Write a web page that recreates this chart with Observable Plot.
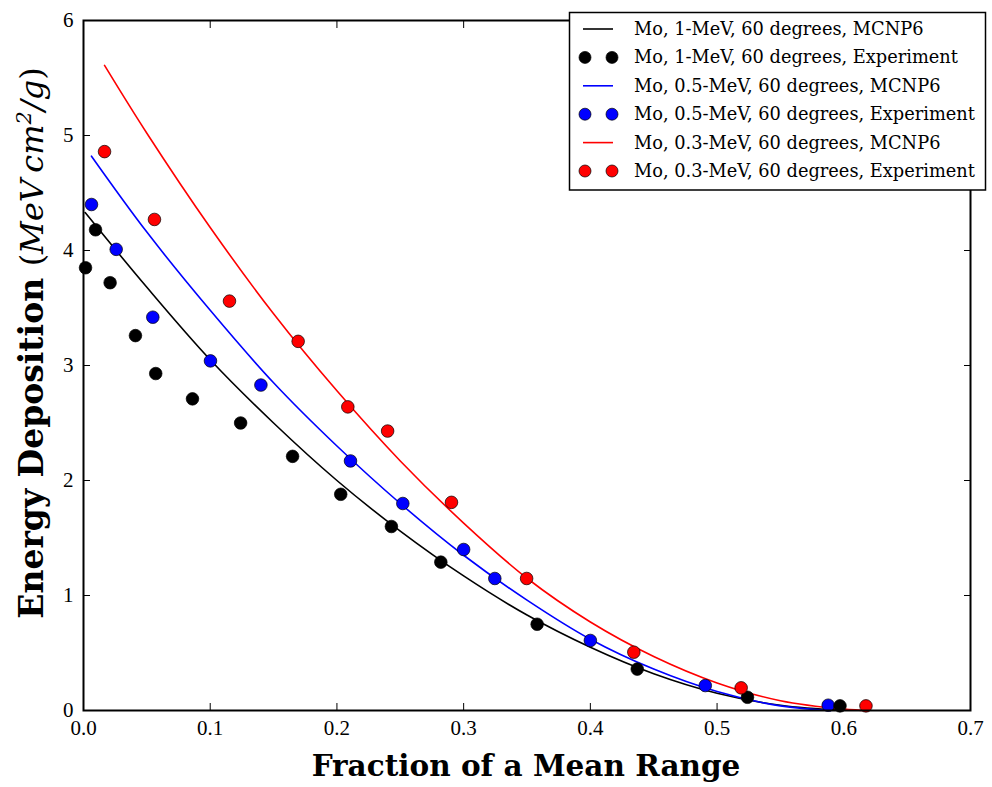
<!DOCTYPE html>
<html>
<head>
<meta charset="utf-8">
<script src="https://cdn.jsdelivr.net/npm/d3@7"></script>
<script src="https://cdn.jsdelivr.net/npm/@observablehq/plot@0.6"></script>
<style>
  html, body { margin: 0; padding: 0; background: white; }
  #chart { width: 992px; height: 787px; }
</style>
</head>
<body>
<div id="chart"></div>
<script>
// ---- Data ----
const xTicks = [0.0, 0.1, 0.2, 0.3, 0.4, 0.5, 0.6, 0.7];
const yTicks = [0, 1, 2, 3, 4, 5, 6];

// MCNP6 curves
const mc1_x = [0.0013, 0.05, 0.1, 0.15, 0.2, 0.25, 0.3, 0.35, 0.4, 0.45, 0.5, 0.55, 0.6];
const mc1_y = [4.33, 3.68, 3.05, 2.50, 2.00, 1.56, 1.17, 0.83, 0.55, 0.32, 0.15, 0.045, 0.0];

const mc05_x = [0.0063, 0.05, 0.1, 0.15, 0.2, 0.25, 0.3, 0.35, 0.4, 0.45, 0.5, 0.55, 0.59];
const mc05_y = [4.82, 4.16, 3.48, 2.85, 2.30, 1.80, 1.35, 0.96, 0.62, 0.36, 0.165, 0.04, 0.0];

const mc03_x = [0.0166, 0.05, 0.1, 0.15, 0.2, 0.25, 0.3, 0.35, 0.4, 0.45, 0.5, 0.55, 0.6, 0.62];
const mc03_y = [5.61, 5.02, 4.20, 3.45, 2.78, 2.17, 1.63, 1.15, 0.77, 0.47, 0.24, 0.085, 0.012, 0.0];

// Experiment points
const ex1_x = [0.0016, 0.0095, 0.021, 0.041, 0.057, 0.086, 0.124, 0.165, 0.203, 0.243, 0.282, 0.358, 0.437, 0.524, 0.597];
const ex1_y = [3.85, 4.18, 3.72, 3.26, 2.93, 2.71, 2.50, 2.21, 1.88, 1.60, 1.29, 0.75, 0.36, 0.115, 0.04];

const ex05_x = [0.0063, 0.0258, 0.0547, 0.1002, 0.140, 0.2107, 0.252, 0.300, 0.3246, 0.400, 0.4907, 0.5877];
const ex05_y = [4.40, 4.01, 3.42, 3.04, 2.83, 2.17, 1.80, 1.40, 1.148, 0.609, 0.217, 0.046];

const ex03_x = [0.0166, 0.056, 0.1152, 0.1694, 0.2086, 0.240, 0.2904, 0.3497, 0.4343, 0.519, 0.6175];
const ex03_y = [4.86, 4.27, 3.56, 3.21, 2.64, 2.43, 1.81, 1.148, 0.507, 0.197, 0.04];

const legendLabels = [
  "Mo, 1-MeV, 60 degrees, MCNP6",
  "Mo, 1-MeV, 60 degrees, Experiment",
  "Mo, 0.5-MeV, 60 degrees, MCNP6",
  "Mo, 0.5-MeV, 60 degrees, Experiment",
  "Mo, 0.3-MeV, 60 degrees, MCNP6",
  "Mo, 0.3-MeV, 60 degrees, Experiment"
];
const legendColors = ["black", "black", "blue", "blue", "red", "red"];
const legendKinds = ["line", "dot", "line", "dot", "line", "dot"];

// ---- Build tables ----
const zip = (xs, ys) => xs.map((x, i) => ({x, y: ys[i]}));
const mc1 = zip(mc1_x, mc1_y), mc05 = zip(mc05_x, mc05_y), mc03 = zip(mc03_x, mc03_y);
const ex1 = zip(ex1_x, ex1_y), ex05 = zip(ex05_x, ex05_y), ex03 = zip(ex03_x, ex03_y);

const serif = "'DejaVu Serif', serif";
const dotOpts = (fill) => ({x: "x", y: "y", r: 6.3, fill, stroke: "black", strokeWidth: 0.7});
const lineOpts = (stroke) => ({x: "x", y: "y", stroke, strokeWidth: 1.6, curve: "catmull-rom"});

const svg = Plot.plot({
  width: 992,
  height: 787,
  marginLeft: 83,
  marginRight: 22,
  marginTop: 20,
  marginBottom: 77,
  x: {domain: [0, 0.7]},
  y: {domain: [0, 6]},
  style: {fontFamily: "'Liberation Serif', serif", fontSize: "21px", color: "black", background: "white"},
  marks: [
    // inward ticks on all four sides
    Plot.axisX(xTicks, {anchor: "bottom", tickSize: -7, tickFormat: () => "", label: null, strokeWidth: 1}),
    Plot.axisX(xTicks, {anchor: "top", tickSize: -7, tickFormat: () => "", label: null, strokeWidth: 1}),
    Plot.axisY(yTicks, {anchor: "left", tickSize: -7, tickFormat: () => "", label: null, strokeWidth: 1}),
    Plot.axisY(yTicks, {anchor: "right", tickSize: -7, tickFormat: () => "", label: null, strokeWidth: 1}),
    // tick labels
    Plot.axisX(xTicks, {anchor: "bottom", tickSize: 0, tickPadding: 10, tickFormat: d => d.toFixed(1), label: null, fontSize: 21}),
    Plot.axisY(yTicks, {anchor: "left", tickSize: 0, tickPadding: 10, tickFormat: d => String(d), label: null, fontSize: 21}),
    Plot.line(mc1, lineOpts("black")),
    Plot.line(mc05, lineOpts("blue")),
    Plot.line(mc03, lineOpts("red")),
    Plot.dot(ex05, dotOpts("blue")),
    Plot.dot(ex1, dotOpts("black")),
    Plot.dot(ex03, dotOpts("red")),
    Plot.frame({stroke: "black", strokeWidth: 2})
  ]
});

const root = d3.select(svg);

// X axis label
root.append("text")
  .attr("x", 526).attr("y", 776)
  .attr("text-anchor", "middle")
  .attr("font-family", serif)
  .attr("font-weight", "bold")
  .attr("font-size", 29.5)
  .attr("fill", "black")
  .text("Fraction of a Mean Range");

// Y axis label (bold words + italic unit)
const yl = root.append("text")
  .attr("transform", "translate(43,343) rotate(-90)")
  .attr("text-anchor", "middle")
  .attr("font-family", serif)
  .attr("font-size", 33)
  .attr("fill", "black");
yl.append("tspan").attr("font-weight", "bold").text("Energy Deposition ");
yl.append("tspan").attr("font-size", 32).text("(");
yl.append("tspan").attr("font-style", "italic").attr("font-size", 32).text("MeV\u2009cm");
yl.append("tspan").attr("font-style", "italic").attr("font-size", 21).attr("dy", -12).text("2");
yl.append("tspan").attr("font-style", "italic").attr("font-size", 32).attr("dy", 12).text("/g");
yl.append("tspan").attr("font-size", 32).text(")");

// Legend
const lg = root.append("g").attr("text-anchor", "start");
lg.append("rect")
  .attr("x", 569.5).attr("y", 12.5).attr("width", 416).attr("height", 177.5)
  .attr("fill", "white").attr("stroke", "black").attr("stroke-width", 1.5);
legendLabels.forEach((lab, i) => {
  const cy = 29 + i * 28.4;
  if (legendKinds[i] === "line") {
    lg.append("line").attr("x1", 583).attr("x2", 613).attr("y1", cy).attr("y2", cy)
      .attr("stroke", legendColors[i]).attr("stroke-width", 1.6);
  } else {
    [585, 612].forEach(cx => lg.append("circle").attr("cx", cx).attr("cy", cy).attr("r", 6)
      .attr("fill", legendColors[i]).attr("stroke", "black").attr("stroke-width", 0.7));
  }
  lg.append("text").attr("x", 634).attr("y", cy + 6)
    .attr("text-anchor", "start")
    .attr("font-family", serif).attr("font-size", 17.8).attr("fill", "black")
    .text(lab);
});

document.getElementById("chart").appendChild(svg);
</script>
</body>
</html>
